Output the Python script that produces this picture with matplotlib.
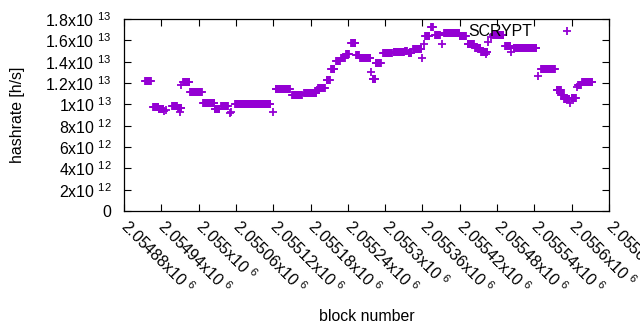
import numpy as np
import matplotlib.pyplot as plt
from matplotlib.ticker import FixedLocator, FuncFormatter

plt.rcParams['font.family'] = ['Liberation Sans', 'DejaVu Sans']
plt.rcParams['mathtext.fontset'] = 'custom'
plt.rcParams['mathtext.rm'] = 'Liberation Sans'
plt.rcParams['mathtext.it'] = 'Liberation Sans'
plt.rcParams['mathtext.default'] = 'rm'

# runs of blocks sharing one hashrate estimate (block start, block end, value in 1e12 h/s)
run_start = [2054914, 2054927, 2054936, 2054957, 2054967, 2054975, 2054986, 2055007,
             2055026, 2055036, 2055059, 2055124, 2055150, 2055170, 2055192, 2055206,
             2055213, 2055221, 2055229, 2055237, 2055245, 2055253, 2055260, 2055280,
             2055285, 2055297, 2055314, 2055322, 2055332, 2055338, 2055345, 2055364,
             2055374, 2055380, 2055395, 2055420, 2055433, 2055445, 2055454, 2055474,
             2055493, 2055507, 2055551, 2055576, 2055583, 2055588, 2055600, 2055610,
             2055617]
run_end = [2054923, 2054935, 2054943, 2054965, 2054972, 2054985, 2055005, 2055025,
           2055033, 2055047, 2055115, 2055147, 2055166, 2055189, 2055203, 2055211,
           2055218, 2055227, 2055235, 2055242, 2055252, 2055258, 2055276, 2055284,
           2055293, 2055311, 2055321, 2055330, 2055335, 2055342, 2055358, 2055371,
           2055377, 2055388, 2055419, 2055430, 2055443, 2055453, 2055464, 2055490,
           2055501, 2055543, 2055573, 2055582, 2055587, 2055596, 2055607, 2055615,
           2055633]
run_value = [12.23, 9.72, 9.56, 9.89, 9.63, 12.14, 11.13, 10.17,
             9.59, 9.83, 10.0, 11.41, 10.85, 11.03, 11.5, 12.25,
             13.27, 14.02, 14.3, 14.72, 15.72, 14.63, 14.32, 12.33,
             13.88, 14.77, 14.92, 14.86, 15.02, 14.77, 15.23, 16.36,
             17.21, 16.48, 16.66, 16.39, 15.68, 15.28, 14.95, 16.5,
             15.44, 15.25, 13.27, 11.34, 10.88, 10.5, 10.59, 11.81,
             12.09]

# isolated blocks
single_block = [2054944, 2054947, 2054970, 2054972, 2055050, 2055052, 2055120, 2055190,
                2055277, 2055359, 2055363, 2055392, 2055462, 2055466, 2055470, 2055503,
                2055546, 2055597, 2055609]
single_value = [9.33, 9.45, 9.28, 11.77, 9.19, 9.25, 9.25, 11.34,
                13.03, 14.39, 15.63, 15.63, 14.72, 15.87, 16.34, 14.93,
                12.66, 10.13, 11.6]

x_ticks = np.arange(2054880, 2055661, 60)
y_ticks = np.arange(0, 1.81e13, 2e12)

blocks = []
rates = []
for s, e, v in zip(run_start, run_end, run_value):
    b = np.arange(s, e + 1)
    blocks.extend(b)
    rates.extend([v * 1e12] * len(b))
blocks.extend(single_block)
rates.extend([v * 1e12 for v in single_value])
order = np.argsort(blocks)
blocks = np.array(blocks)[order]
rates = np.array(rates)[order]

fs = 11.4

fig = plt.figure(figsize=(6.4, 3.3), dpi=100)
ax = fig.add_axes([124 / 640, 1 - 211 / 330, 485 / 640, 192 / 330])

ax.plot(blocks, rates, ls='none', marker='+', ms=5.5, mew=1.3, color='#9400d3', label='SCRYPT')

ax.set_xlim(2054880, 2055660)
ax.set_ylim(0, 1.8e13)


def sci(v):
    # gnuplot style "%gx10^{%T}"
    if v == 0:
        return '0'
    e = int(np.floor(np.log10(abs(v)) + 1e-9))
    m = v / 10.0 ** e
    return '%sx10 $^{%d}$' % (('%.6g' % m), e)


ax.xaxis.set_major_locator(FixedLocator(x_ticks))
ax.yaxis.set_major_locator(FixedLocator(y_ticks))
ax.xaxis.set_major_formatter(FuncFormatter(lambda v, p: sci(v)))
ax.yaxis.set_major_formatter(FuncFormatter(lambda v, p: sci(v)))

ax.tick_params(direction='in', length=5, width=0.8, top=True, right=True, labelsize=fs, colors='black')
ax.tick_params(axis='y', pad=9)
ax.tick_params(axis='x', pad=9)
for lab in ax.get_xticklabels():
    lab.set_rotation(-45)
    lab.set_ha('left')
    lab.set_va('center')
    lab.set_rotation_mode('anchor')

for sp in ax.spines.values():
    sp.set_linewidth(0.9)

ax.set_ylabel('hashrate [h/s]', fontsize=fs)
ax.set_xlabel('block number', fontsize=fs)
ax.yaxis.set_label_coords(-0.204, 0.5)
ax.xaxis.set_label_coords(0.5, -0.51)

ax.legend(loc='center right', bbox_to_anchor=(592 / 640, 1 - 32 / 330), bbox_transform=fig.transFigure,
          frameon=False, markerfirst=False, numpoints=1, fontsize=fs,
          handlelength=3.2, borderaxespad=0, borderpad=0, handletextpad=0.6)

fig.savefig('out.png', dpi=100)
